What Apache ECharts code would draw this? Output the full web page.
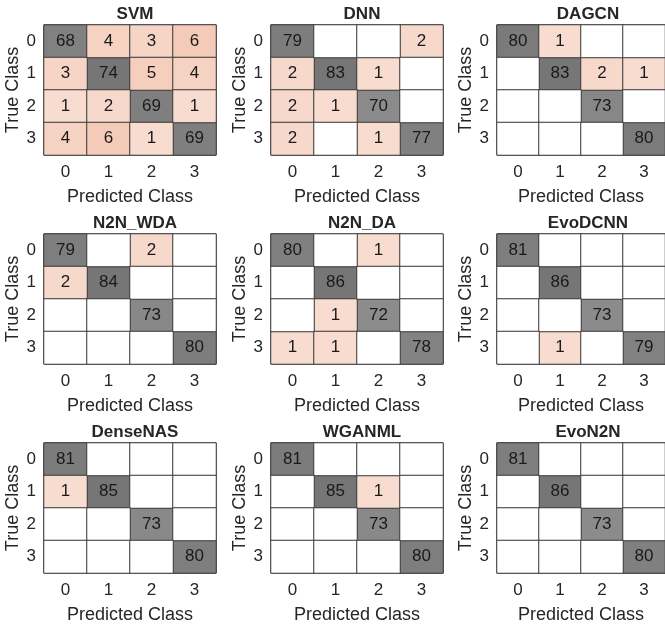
<!DOCTYPE html>
<html>
<head>
<meta charset="utf-8">
<script src="https://cdn.jsdelivr.net/npm/echarts@6/dist/echarts.min.js"></script>
<style>
	html, body { margin: 0; padding: 0; background: #fff; }
	#main { width: 665px; height: 628px; }
</style>
</head>
<body>
<div id="main"></div>
<script>
var classes = ['0', '1', '2', '3'];
var models = ['SVM', 'DNN', 'DAGCN', 'N2N_WDA', 'N2N_DA', 'EvoDCNN', 'DenseNAS', 'WGANML', 'EvoN2N'];

// rows = true class, cols = predicted class
var svm = [[68, 4, 3, 6], [3, 74, 5, 4], [1, 2, 69, 1], [4, 6, 1, 69]];
var dnn = [[79, 0, 0, 2], [2, 83, 1, 0], [2, 1, 70, 0], [2, 0, 1, 77]];
var dagcn = [[80, 1, 0, 0], [0, 83, 2, 1], [0, 0, 73, 0], [0, 0, 0, 80]];
var n2nWda = [[79, 0, 2, 0], [2, 84, 0, 0], [0, 0, 73, 0], [0, 0, 0, 80]];
var n2nDa = [[80, 0, 1, 0], [0, 86, 0, 0], [0, 1, 72, 0], [1, 1, 0, 78]];
var evoDcnn = [[81, 0, 0, 0], [0, 86, 0, 0], [0, 0, 73, 0], [0, 1, 0, 79]];
var denseNas = [[81, 0, 0, 0], [1, 85, 0, 0], [0, 0, 73, 0], [0, 0, 0, 80]];
var wganml = [[81, 0, 0, 0], [0, 85, 1, 0], [0, 0, 73, 0], [0, 0, 0, 80]];
var evoN2n = [[81, 0, 0, 0], [0, 86, 0, 0], [0, 0, 73, 0], [0, 0, 0, 80]];

var matrices = [svm, dnn, dagcn, n2nWda, n2nDa, evoDcnn, denseNas, wganml, evoN2n];

var chart = echarts.init(document.getElementById('main'));

var FONT = '"Liberation Sans", Arial, Helvetica, sans-serif';
var colLeft = [44, 271, 497],
	rowTop = [25, 234, 443],
	gridW = 172,
	gridH = 130;

var grids = [], xAxes = [], yAxes = [], titles = [], series = [],
	diagIdx = [], offIdx = [];

var cellStyle = { borderColor: '#3a3a3a', borderWidth: 1 };
var cellLabel = {
	show: true, fontFamily: FONT, fontSize: 17, color: '#1a1a1a',
	formatter: function(p) { return p.value[2] > 0 ? p.value[2] : ''; }
};

matrices.forEach(function(m, k) {
	var r = Math.floor(k / 3), c = k % 3;
	grids.push({ left: colLeft[c], top: rowTop[r], width: gridW, height: gridH,
		show: true, borderColor: '#262626', borderWidth: 1 });

	titles.push({
		text: models[k],
		left: colLeft[c] + gridW / 2,
		top: rowTop[r] - 24,
		textAlign: 'center',
		textStyle: { fontFamily: FONT, fontSize: 17, fontWeight: 'bold', color: '#262626' }
	});

	xAxes.push({
		type: 'category', gridIndex: k, data: classes, position: 'bottom',
		axisLine: { show: false }, axisTick: { show: false },
		axisLabel: { margin: 9, fontFamily: FONT, fontSize: 17, color: '#262626' },
		name: 'Predicted Class', nameLocation: 'middle', nameGap: 33,
		nameTextStyle: { fontFamily: FONT, fontSize: 18, color: '#262626' }
	});
	yAxes.push({
		type: 'category', gridIndex: k, data: classes, inverse: true,
		axisLine: { show: false }, axisTick: { show: false },
		axisLabel: { margin: 8, fontFamily: FONT, fontSize: 17, color: '#262626' },
		name: 'True Class', nameLocation: 'middle', nameGap: 22,
		nameTextStyle: { fontFamily: FONT, fontSize: 18, color: '#262626' }
	});

	// 对角线颜色按本矩阵最大值归一化
	var maxVal = 0;
	m.forEach(function(row) { row.forEach(function(v) { if (v > maxVal) maxVal = v; }); });

	var diag = [], off = [], empty = [];
	for (var i = 0; i < 4; i++) {
		for (var j = 0; j < 4; j++) {
			if (i == j) {
				diag.push([j, i, m[i][j], m[i][j] / maxVal]);
			} else if (m[i][j] > 0) {
				off.push([j, i, m[i][j]]);
			} else {
				empty.push([j, i, 0]);
			}
		}
	}

	diagIdx.push(series.length);
	series.push({ type: 'heatmap', xAxisIndex: k, yAxisIndex: k, data: diag,
		itemStyle: cellStyle, label: cellLabel, emphasis: { disabled: true } });
	offIdx.push(series.length);
	series.push({ type: 'heatmap', xAxisIndex: k, yAxisIndex: k, data: off,
		itemStyle: cellStyle, label: cellLabel, emphasis: { disabled: true } });
	// 空白格
	series.push({ type: 'heatmap', xAxisIndex: k, yAxisIndex: k, data: empty,
		itemStyle: { color: '#ffffff', borderColor: '#3a3a3a', borderWidth: 1 },
		label: { show: false }, emphasis: { disabled: true } });
});

var option = {
	animation: false,
	backgroundColor: '#ffffff',
	title: titles,
	grid: grids,
	xAxis: xAxes,
	yAxis: yAxes,
	visualMap: [{
		show: false, type: 'continuous', seriesIndex: diagIdx, dimension: 3,
		min: 0, max: 1, inRange: { color: ['#ffffff', '#767676'] }
	}, {
		show: false, type: 'continuous', seriesIndex: offIdx, dimension: 2,
		min: 1, max: 6, inRange: { color: ['#f8dcd0', '#f4cbb9'] }
	}],
	series: series
};

chart.setOption(option);
</script>
</body>
</html>
